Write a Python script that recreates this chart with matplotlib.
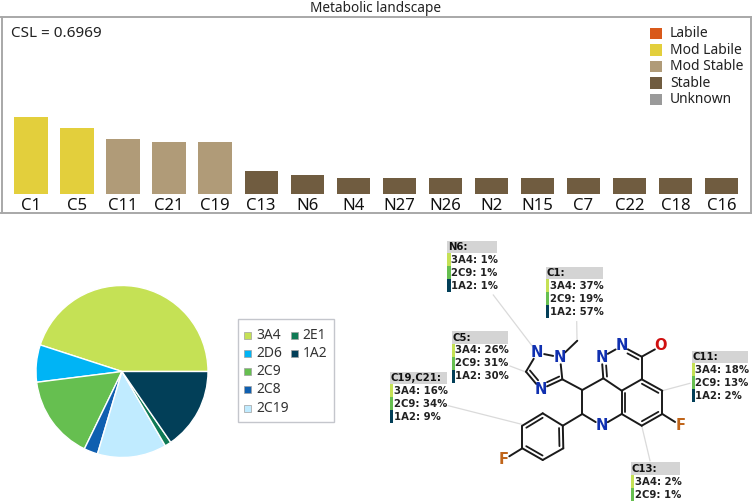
import matplotlib
matplotlib.use("Agg")
import matplotlib.pyplot as plt
from matplotlib.patches import Rectangle

W, H = 753, 503
UI_FONT = "Noto Sans"
plt.rcParams["font.family"] = [UI_FONT, "DejaVu Sans"]

# ---- data ----
sites = ["C1", "C5", "C11", "C21", "C19", "C13", "N6", "N4", "N27", "N26", "N2", "N15", "C7", "C22", "C18", "C16"]
scores = [77, 66, 55, 52, 52, 23, 19, 16, 16, 16, 16, 16, 16, 16, 16, 16]
classes = ["Mod Labile", "Mod Labile", "Mod Stable", "Mod Stable", "Mod Stable", "Stable", "Stable", "Stable",
           "Stable", "Stable", "Stable", "Stable", "Stable", "Stable", "Stable", "Stable"]
class_names = ["Labile", "Mod Labile", "Mod Stable", "Stable", "Unknown"]
class_colors = ["#D9591A", "#E3CF3C", "#B09B78", "#705C40", "#9A9A9A"]

isoforms = ["3A4", "2D6", "2C9", "2C8", "2C19", "2E1", "1A2"]
shares = [45.0, 7.0, 15.8, 2.6, 13.0, 1.2, 15.4]
iso_colors = ["#C5E155", "#00B4F5", "#66BF50", "#0F5FB0", "#C0EBFF", "#0F7A55", "#023F58"]

callout_titles = ["N6:", "C1:", "C5:", "C19,C21:", "C11:", "C13:"]
callout_3A4 = [1, 37, 26, 16, 18, 2]
callout_2C9 = [1, 19, 31, 34, 13, 1]
callout_1A2 = [1, 57, 30, 9, 2, None]

# ---- layout (pixel geometry) ----
def px_axes(fig, l, t, r, b):
    return fig.add_axes([l / W, 1 - b / H, (r - l) / W, (b - t) / H])

fig = plt.figure(figsize=(W / 100, H / 100), dpi=100, facecolor="white")

# ---- bar chart ----
ax = px_axes(fig, 1.5, 17, 750.5, 213.5)
pitch = 46.03
ax.set_xlim((1.5 - 31) / pitch, (750.5 - 31) / pitch)
ax.set_ylim(-19, 177.5)
cmap = dict(zip(class_names, class_colors))
xs = list(range(len(sites)))
ax.bar(xs, scores, width=33.3 / pitch, color=[cmap[c] for c in classes], linewidth=0)
ax.set_xticks(xs, sites, fontsize=12.0, color="#111111")
ax.tick_params(axis="x", length=0, pad=-11.4)
ax.set_yticks([])
for s in ax.spines.values():
    s.set_color("#A8A8A8")
    s.set_linewidth(1.4)
ax.set_title("Metabolic landscape", fontsize=9.8, color="#222222", pad=3.6)

# ---- pie ----
pie_ax = px_axes(fig, 36, 285.5, 208, 457.5)
pie_ax.pie(shares, colors=iso_colors, startangle=0, counterclock=True, radius=1.0,
           wedgeprops=dict(edgecolor="white", linewidth=1.0))
pie_ax.set_xlim(-1, 1)
pie_ax.set_ylim(-1, 1)

# ---- overlay in pixel coordinates ----
ov = fig.add_axes([0, 0, 1, 1], facecolor="none")
ov.set_xlim(0, W)
ov.set_ylim(H, 0)
ov.axis("off")

ov.text(11.5, 33, "CSL = 0.6969", fontsize=11, va="center", ha="left", color="#222222")

# class legend
for i, (n, c) in enumerate(zip(class_names, class_colors)):
    y = 33.5 + i * 16.55
    ov.add_patch(Rectangle((650.5, y - 5.7), 11.4, 11.4, fc=c, ec="none"))
    ov.text(670, y, n, fontsize=10.0, va="center", ha="left", color="#222222")

# pie legend
ov.add_patch(Rectangle((238, 319), 96.3, 103.3, fc="white", ec="#C4C6CC", lw=1))
col_layout = [(244.5, 335), (244.5, 353.5), (244.5, 371.5), (244.5, 389.5), (244.5, 408), (291, 335), (291, 353.5)]
legend_order = ["3A4", "2D6", "2C9", "2C8", "2C19", "2E1", "1A2"]
for name, (x, y) in zip(legend_order, col_layout):
    c = iso_colors[isoforms.index(name)]
    ov.add_patch(Rectangle((x, y - 3.5), 7, 7, fc=c, ec="#A0A0A0", lw=0.5))
    ov.text(x + 11.5, y + 0.3, name, fontsize=10.0, va="center", ha="left", color="#333333")

# ---- molecule ----
BLK = "#1A1A1A"
BLU = "#1030B0"
RED = "#D01010"
ORG = "#C0651A"
P = dict(
    Na=(537.3, 352.7), Nb=(560, 357.3), C5=(562.3, 379.3), Nc=(540.7, 389.3), Ct=(526, 371.7), Me=(577.3, 340.7),
    C9=(582.3, 390), C10=(603.3, 378.3), N1=(601.7, 357.3), N2=(621.7, 346), CO=(641.7, 356.7), O=(661, 346),
    A1=(641.7, 379.3), A2=(621.7, 390.7), A3=(662.3, 390.7), A4=(662.3, 414), A5=(641.7, 425.7), A6=(621.7, 414),
    F1=(681, 425.7), N3=(601.7, 425.7), C8=(582.3, 414),
    R1=(562.8, 425.7), R2=(563.3, 448.3), R3=(542.7, 460), R4=(522.3, 448.3), R5=(522.3, 425.7), R6=(542.7, 413.3),
    F2=(503.3, 460),
)
hetero = dict(Na=("N", BLU), Nb=("N", BLU), Nc=("N", BLU), N1=("N", BLU), N2=("N", BLU), N3=("N", BLU),
              O=("O", RED), F1=("F", ORG), F2=("F", ORG))
single = ["Na Nb", "Nb C5", "Ct Na", "Nb Me", "C5 C9", "C9 C10", "C9 C8", "C8 N3", "N3 A6", "C8 R1", "C10 A2",
          "N1 N2", "CO A1", "A1 A2", "A2 A6", "A1 A3", "A3 A4", "A4 A5", "A5 A6", "A4 F1", "CO O",
          "R1 R2", "R2 R3", "R3 R4", "R4 R5", "R5 R6", "R6 R1", "R4 F2", "Ct Nc", "C5 Nc", "C10 N1", "N2 CO"]
inner = {"Ct Nc": (545, 372), "C5 Nc": (545, 372), "C10 N1": (613, 368), "N2 CO": (628, 368),
         "A1 A3": (642, 402), "A4 A5": (642, 402), "A2 A6": (642, 402),
         "R1 R2": (543, 437), "R3 R4": (543, 437), "R5 R6": (543, 437)}

def trimmed(a, b):
    (x0, y0), (x1, y1) = P[a], P[b]
    d = ((x1 - x0) ** 2 + (y1 - y0) ** 2) ** 0.5
    t0 = 7.0 / d if a in hetero else 0
    t1 = 7.0 / d if b in hetero else 0
    return (x0 + (x1 - x0) * t0, y0 + (y1 - y0) * t0), (x0 + (x1 - x0) * (1 - t1), y0 + (y1 - y0) * (1 - t1))

for bond in single:
    a, b = bond.split()
    p, q = trimmed(a, b)
    ov.plot([p[0], q[0]], [p[1], q[1]], color=BLK, lw=1.4, solid_capstyle="round", zorder=3)
for bond, (cx, cy) in inner.items():
    a, b = bond.split()
    p, q = trimmed(a, b)
    f = 0.2
    mx, my = (p[0] + q[0]) / 2, (p[1] + q[1]) / 2
    dx, dy = q[0] - p[0], q[1] - p[1]
    L = (dx ** 2 + dy ** 2) ** 0.5
    nx, ny = -dy / L, dx / L
    if (cx - mx) * nx + (cy - my) * ny < 0:
        nx, ny = -nx, -ny
    ox, oy = nx * 3.8, ny * 3.8
    ov.plot([p[0] + dx * f / 2 + ox, q[0] - dx * f / 2 + ox], [p[1] + dy * f / 2 + oy, q[1] - dy * f / 2 + oy],
            color=BLK, lw=1.3, solid_capstyle="round", zorder=3)
for k, (s, c) in hetero.items():
    ov.text(P[k][0], P[k][1], s, color=c, fontsize=10.5, fontweight="bold", family="DejaVu Sans",
            ha="center", va="center", zorder=4)

# ---- callouts ----
leaders = [[(493.3, 295), (532.7, 346.7)], [(576.7, 321.7), (577, 339)], [(510, 366), (525, 371.7)],
           [(448.3, 405.7), (521.7, 424.3)], [(690, 383.3), (662.3, 390.7)], [(650, 460.7), (641.7, 425.7)]]
for pts in leaders:
    ov.plot(*zip(*pts), color="#DADADA", lw=0.9, zorder=1)

boxes = [(447.3, 497.3, 240.7), (546, 602.7, 266.7), (451.7, 507.7, 331), (390, 446.7, 371.7),
         (691.7, 748, 350.7), (631, 680.3, 462.3)]
row_colors = [iso_colors[0], iso_colors[2], iso_colors[6]]
for title, v1, v2, v3, (x0, x1, y0) in zip(callout_titles, callout_3A4, callout_2C9, callout_1A2, boxes):
    ov.add_patch(Rectangle((x0, y0), x1 - x0, 12.6, fc="#D4D4D4", ec="none", zorder=2))
    ov.text(x0 + 0.4, y0 + 6.6, title, fontsize=7.3, fontweight="bold", family="DejaVu Sans",
            ha="left", va="center", color="#111111", zorder=3)
    rows = [("3A4", v1), ("2C9", v2), ("1A2", v3)]
    for i, (nm, v) in enumerate(rows):
        if v is None:
            continue
        top = y0 + 12.6 + i * 13
        ov.add_patch(Rectangle((x0, top), 3.3, 13, fc=row_colors[i], ec="none", zorder=2))
        ov.text(x0 + 3.8, top + 6.6, f"{nm}: {v}%", fontsize=7.3, fontweight="bold", family="DejaVu Sans",
                ha="left", va="center", color="#222222", zorder=3)

fig.savefig("out.png", dpi=100)
